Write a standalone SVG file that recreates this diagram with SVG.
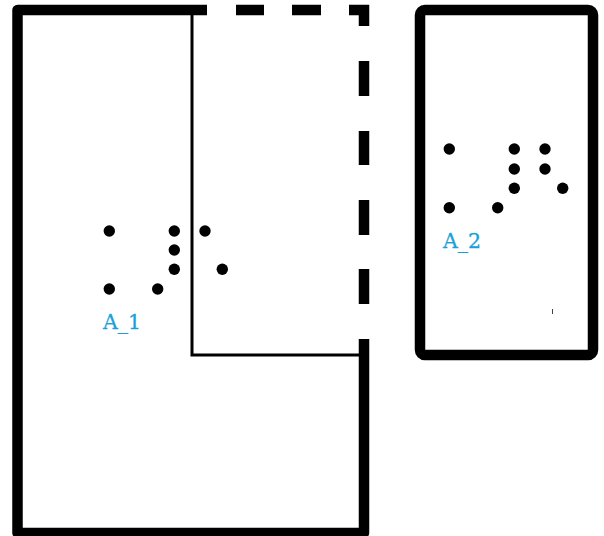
<svg xmlns="http://www.w3.org/2000/svg" width="604" height="536" viewBox="0 0 604 536">
<style>
.thick{fill:none;stroke:#000;stroke-width:10.5}
.thin{fill:none;stroke:#000;stroke-width:3}
.dot{fill:#000}
.lbl{font-family:"DejaVu Serif",serif;font-size:20.5px;fill:#1a9fd9;stroke:#1a9fd9;stroke-width:0.3}
</style>
<rect width="604" height="536" fill="#fff"/>
<g id="A_1">
  <path class="thick" d="M364 339 V533 H17.5 V10 H207" stroke-linejoin="round"/>
  <g class="thick">
    <line x1="236" y1="10" x2="264" y2="10"/>
    <line x1="292" y1="10" x2="321" y2="10"/>
    <path d="M349 10 H364 V26" stroke-linejoin="miter"/>
    <line x1="364" y1="61" x2="364" y2="96"/>
    <line x1="364" y1="131" x2="364" y2="165"/>
    <line x1="364" y1="200" x2="364" y2="235"/>
    <line x1="364" y1="269" x2="364" y2="304"/>
  </g>
  <path class="thin" d="M192 10 V355 H362"/>
  <g class="dot">
    <circle cx="109.3" cy="231" r="5.7"/>
    <circle cx="174.3" cy="231" r="5.7"/>
    <circle cx="205" cy="231" r="5.7"/>
    <circle cx="174.3" cy="250" r="5.7"/>
    <circle cx="174.3" cy="269.3" r="5.7"/>
    <circle cx="222.3" cy="269.3" r="5.7"/>
    <circle cx="109.3" cy="289" r="5.7"/>
    <circle cx="157.7" cy="289" r="5.7"/>
  </g>
  <text class="lbl" x="103" y="329.3">A_1</text>
</g>
<g id="A_2">
  <rect class="thick" x="420" y="10" width="173" height="345" rx="5"/>
  <g class="dot">
    <circle cx="449.3" cy="149" r="5.7"/>
    <circle cx="514.3" cy="149" r="5.7"/>
    <circle cx="545" cy="149" r="5.7"/>
    <circle cx="514.3" cy="169" r="5.7"/>
    <circle cx="545" cy="169" r="5.7"/>
    <circle cx="514.3" cy="188.3" r="5.7"/>
    <circle cx="562.7" cy="188.3" r="5.7"/>
    <circle cx="449.3" cy="207.7" r="5.7"/>
    <circle cx="497.7" cy="207.7" r="5.7"/>
  </g>
  <text class="lbl" x="443" y="248">A_2</text>
  <line x1="552.5" y1="309" x2="552.5" y2="314" stroke="#444" stroke-width="1"/>
</g>
<g id="connectors"/>
</svg>
